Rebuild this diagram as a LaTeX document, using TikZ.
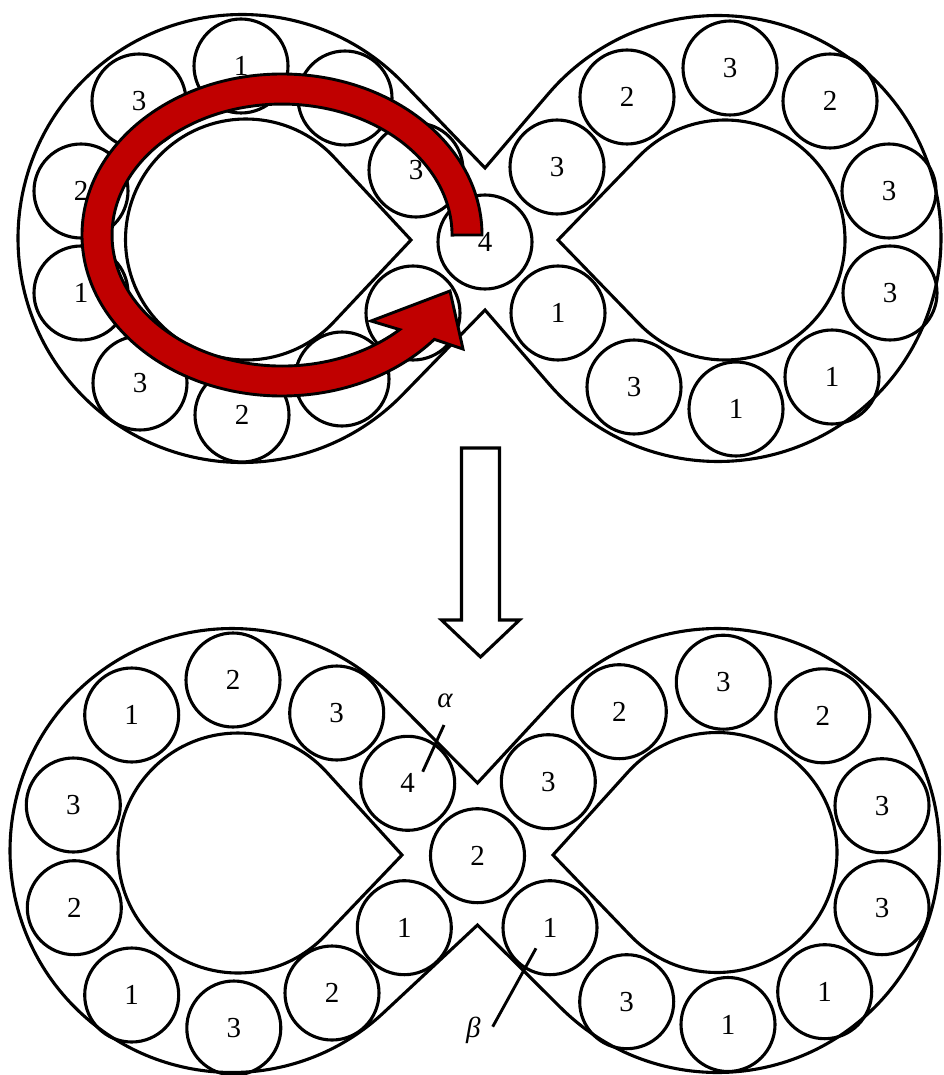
\documentclass[tikz,border=0pt]{standalone}
\usepackage{fontspec}
\setmainfont{Liberation Serif}
\usetikzlibrary{calc}
\definecolor{arrowred}{RGB}{192,0,0}
% figure-eight outline: #1 xCL #2 xCR #3 yC #4 RL #5 RR #6 xN #7 yTop #8 yBottom (canvas coords)
\newcommand\drawfigeight[8]{%
  \pgfmathsetmacro\aLU{atan2(#7-(#3),#6-(#1))+acos(#4/veclen(#6-(#1),#7-(#3)))}%
  \pgfmathsetmacro\aLL{atan2(#8-(#3),#6-(#1))-acos(#4/veclen(#6-(#1),#8-(#3)))+360}%
  \pgfmathsetmacro\aRL{atan2(#8-(#3),#6-(#2))+acos(#5/veclen(#6-(#2),#8-(#3)))}%
  \pgfmathsetmacro\aRU{atan2(#7-(#3),#6-(#2))-acos(#5/veclen(#6-(#2),#7-(#3)))}%
  \draw[track] (#6,#7) -- ($(#1,#3)+(\aLU:#4)$) arc[start angle=\aLU, end angle=\aLL, radius=#4]
     -- (#6,#8) -- ($(#2,#3)+(\aRL:#5)$) arc[start angle=\aRL, end angle=\aRU, radius=#5] -- cycle;
}
% teardrop: #1 xC #2 yC #3 r #4 xTip #5 yTip
\newcommand\drawdrop[5]{%
  \pgfmathsetmacro\dBase{atan2(#5-(#2),#4-(#1))}%
  \pgfmathsetmacro\dDelta{acos(#3/veclen(#4-(#1),#5-(#2)))}%
  \pgfmathsetmacro\dStart{\dBase+\dDelta}%
  \pgfmathsetmacro\dEnd{\dBase-\dDelta+360}%
  \draw[track] (#4,#5) -- ($(#1,#2)+(\dStart:#3)$) arc[start angle=\dStart, end angle=\dEnd, radius=#3] -- cycle;
}
\begin{document}
\begin{tikzpicture}[x=1pt,y=1pt,
  track/.style={line width=3.1pt, line join=miter},
  disk/.style={circle, draw, line width=3.1pt, minimum size=94pt, inner sep=0pt,
               font=\fontsize{29}{32}\selectfont},
  greek/.style={inner sep=0pt, font=\fontsize{29}{32}\selectfont\itshape},
  lead/.style={line width=2.9pt},
  bigarrow/.style={line width=3.1pt, line join=miter, fill=white},
  redarrow/.style={line width=2.9pt, line join=miter, fill=arrowred, draw=black}]
\useasboundingbox (0,0) rectangle (943,-1075);

% ---------------- top figure ----------------
\drawfigeight{242}{718}{-238.5}{224}{223}{485}{-168}{-310}
\drawdrop{246}{-239.5}{120.5}{411}{-240}
\drawdrop{725}{-240}{120}{558}{-240}

\node[disk] (tA) at (241,-66) {1};
\node[disk] (tB) at (139,-101) {3};
\node[disk] (tC) at (81,-191) {2};
\node[disk] (tD) at (81,-293) {1};
\node[disk] (tE) at (140,-383) {3};
\node[disk] (tF) at (242,-415) {2};
\node[disk] (tG) at (342,-379) {};
\node[disk] (tH) at (413,-313) {};
\node[disk] (tI) at (416,-170) {3};
\node[disk] (tJ) at (345,-98) {};
\node[disk] (tK) at (485,-242) {4};
\node[disk] (tL) at (557,-167) {3};
\node[disk] (tM) at (627,-97) {2};
\node[disk] (tN) at (730,-68) {3};
\node[disk] (tO) at (830,-101) {2};
\node[disk] (tP) at (889,-191) {3};
\node[disk] (tQ) at (890,-293) {3};
\node[disk] (tR) at (832,-377) {1};
\node[disk] (tS) at (736,-409) {1};
\node[disk] (tT) at (634,-387) {3};
\node[disk] (tU) at (558,-313) {1};

% red curved arrow
\draw[redarrow] (482,-235) arc[start angle=0, end angle=319.6, x radius=200, y radius=161]
  -- (463,-349) -- (450,-291) -- (371,-321) -- (399.7,-329.6)
  arc[start angle=313.8, end angle=0, x radius=170, y radius=131] -- cycle;

% block arrow down
\draw[bigarrow] (461.5,-448) -- (499.5,-448) -- (499.5,-620) -- (519.5,-620)
  -- (480.5,-657) -- (441.5,-620) -- (461.5,-620) -- cycle;

% ---------------- bottom figure ----------------
\drawfigeight{232}{717.5}{-850.5}{222}{222}{477.5}{-783}{-925}
\drawdrop{238}{-853}{120}{402}{-855}
\drawdrop{717}{-852.5}{120}{553}{-855}

\node[disk] (bA) at (131.7,-715) {1};
\node[disk] (bB) at (233,-680) {2};
\node[disk] (bC) at (336.7,-713) {3};
\node[disk] (bD) at (407.7,-783.3) {4};
\node[disk] (bE) at (73.3,-805) {3};
\node[disk] (bF) at (74.3,-907.7) {2};
\node[disk] (bG) at (131.7,-995) {1};
\node[disk] (bH) at (233.8,-1028) {3};
\node[disk] (bI) at (332,-993) {2};
\node[disk] (bJ) at (404.3,-927.7) {1};
\node[disk] (bK) at (477.5,-855.7) {2};
\node[disk] (bL) at (548.3,-781.7) {3};
\node[disk] (bM) at (619.3,-711.7) {2};
\node[disk] (bN) at (723.3,-682.2) {3};
\node[disk] (bO) at (822.8,-715.8) {2};
\node[disk] (bP) at (882,-805.7) {3};
\node[disk] (bQ) at (882,-907.7) {3};
\node[disk] (bR) at (824.7,-991.7) {1};
\node[disk] (bS) at (728,-1024.5) {1};
\node[disk] (bT) at (626.7,-1001.7) {3};
\node[disk] (bU) at (550,-927.7) {1};

% labels alpha / beta with leader lines
\node[greek] (alpha) at (445,-701) {α};
\coordinate (alphaS) at (444,-725);
\coordinate (alphaE) at (422.7,-771.7);
\draw[lead] (alphaS) -- (alphaE);
\node[greek] (beta) at (473.3,-1030) {β};
\coordinate (betaS) at (536,-948.3);
\coordinate (betaE) at (492.7,-1026.7);
\draw[lead] (betaS) -- (betaE);
\end{tikzpicture}
\end{document}
